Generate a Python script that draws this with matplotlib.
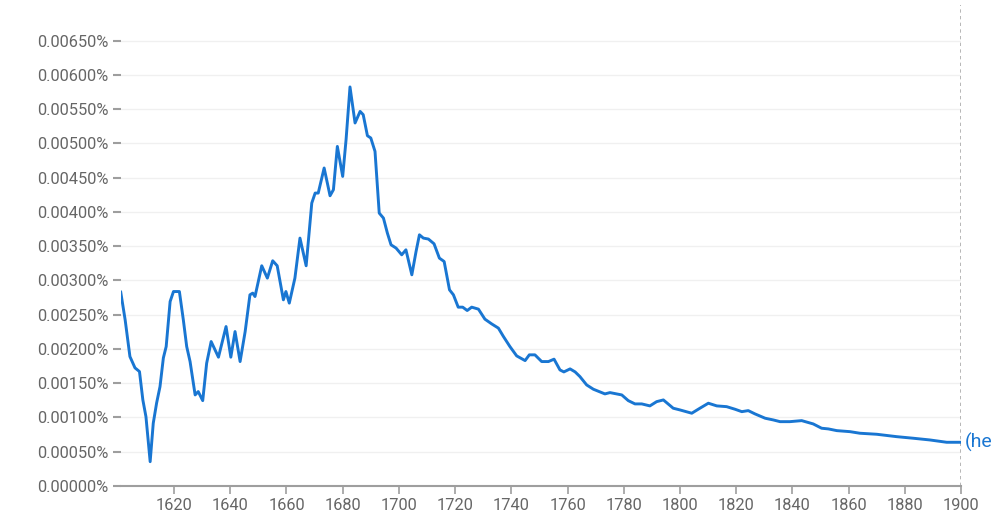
import numpy as np
import matplotlib
matplotlib.use("Agg")
import matplotlib.pyplot as plt
from matplotlib.ticker import FuncFormatter

plt.rcParams['font.family'] = ['Roboto', 'DejaVu Sans']

# values (percent units)
years = [1601.0, 1602.6, 1604.3, 1606.1, 1607.7, 1608.9, 1610.0, 1611.5, 1612.6, 1613.8,
         1615.0, 1616.2, 1617.2, 1618.6, 1619.8, 1621.9, 1623.3, 1624.5, 1625.7, 1627.5,
         1628.6, 1630.2, 1631.6, 1633.2, 1635.8, 1638.5, 1640.2, 1641.7, 1643.5, 1645.3,
         1647.0, 1648.0, 1648.8, 1651.2, 1653.2, 1655.1, 1656.7, 1658.9, 1659.8, 1661.0,
         1663.0, 1664.8, 1667.0, 1669.0, 1670.2, 1671.3, 1673.4, 1675.5, 1676.7, 1678.1,
         1680.0, 1681.2, 1682.6, 1684.4, 1686.2, 1687.3, 1688.8, 1690.0, 1691.5, 1693.0,
         1694.5, 1695.9, 1697.2, 1699.0, 1701.0, 1702.5, 1704.6, 1706.1, 1707.3, 1708.7,
         1710.5, 1712.5, 1714.4, 1716.1, 1718.0, 1719.4, 1721.1, 1722.7, 1724.3, 1725.9,
         1728.3, 1730.6, 1733.0, 1735.4, 1737.2, 1739.5, 1741.9, 1744.9, 1746.4, 1748.4,
         1750.8, 1753.2, 1755.2, 1757.3, 1758.7, 1760.9, 1762.7, 1764.4, 1766.8, 1769.2,
         1773.3, 1775.1, 1779.3, 1781.6, 1784.0, 1786.4, 1789.3, 1791.7, 1794.1, 1797.6,
         1800.0, 1804.2, 1807.1, 1810.1, 1813.1, 1816.6, 1819.6, 1822.0, 1824.3, 1826.7,
         1830.3, 1833.2, 1835.6, 1839.1, 1843.3, 1847.4, 1850.4, 1852.8, 1855.8, 1860.5,
         1864.0, 1870.0, 1877.1, 1883.0, 1888.9, 1894.9, 1900.0]
values = [0.002838, 0.002425, 0.001889, 0.001724, 0.001670, 0.001256, 0.001012, 0.000355, 0.000916, 0.001212,
          0.001450, 0.001870, 0.002035, 0.002692, 0.002838, 0.002838, 0.002425, 0.002035, 0.001816, 0.001329,
          0.001378, 0.001246, 0.001792, 0.002108, 0.001880, 0.002327, 0.001880, 0.002254, 0.001816, 0.002254,
          0.002790, 0.002815, 0.002765, 0.003214, 0.003034, 0.003287, 0.003214, 0.002717, 0.002838, 0.002669,
          0.003034, 0.003618, 0.003214, 0.004129, 0.004275, 0.004275, 0.004641, 0.004236, 0.004324, 0.004956,
          0.004518, 0.005054, 0.005824, 0.005298, 0.005467, 0.005419, 0.005112, 0.005079, 0.004883, 0.003983,
          0.003910, 0.003691, 0.003520, 0.003472, 0.003374, 0.003447, 0.003082, 0.003422, 0.003666, 0.003618,
          0.003604, 0.003535, 0.003326, 0.003276, 0.002863, 0.002790, 0.002610, 0.002610, 0.002561, 0.002610,
          0.002581, 0.002435, 0.002366, 0.002304, 0.002181, 0.002035, 0.001899, 0.001830, 0.001914, 0.001914,
          0.001816, 0.001816, 0.001851, 0.001694, 0.001665, 0.001709, 0.001665, 0.001597, 0.001475, 0.001412,
          0.001344, 0.001363, 0.001329, 0.001246, 0.001198, 0.001198, 0.001169, 0.001231, 0.001256, 0.001135,
          0.001110, 0.001062, 0.001135, 0.001208, 0.001169, 0.001158, 0.001120, 0.001085, 0.001100, 0.001052,
          0.000989, 0.000964, 0.000939, 0.000939, 0.000954, 0.000906, 0.000843, 0.000833, 0.000808, 0.000793,
          0.000770, 0.000755, 0.000720, 0.000697, 0.000672, 0.000638, 0.000638]
series_label = "(he"
ytick_vals = np.arange(0, 0.0066, 0.0005)
xtick_vals = np.arange(1620, 1901, 20)

blue = '#1976d2'
grey_text = '#666666'
axis_grey = '#9e9e9e'

fig = plt.figure(figsize=(9.93, 5.2), dpi=100)
ax = fig.add_axes([0.1215, 0.0654, 0.8463, 0.925])

ax.plot(years, values, color=blue, lw=2.1, solid_joinstyle='round', solid_capstyle='round', zorder=3)

ax.set_xlim(1601, 1900)
ax.set_ylim(0, 0.00702)

ax.set_yticks(ytick_vals)
ax.yaxis.set_major_formatter(FuncFormatter(lambda v, p: f"{v:.5f}%"))
ax.set_xticks(xtick_vals)

for sp in ['top', 'right', 'left']:
    ax.spines[sp].set_visible(False)
ax.spines['bottom'].set_color(axis_grey)
ax.spines['bottom'].set_linewidth(1.5)

ax.tick_params(axis='y', length=6, width=1.5, color=axis_grey, labelcolor=grey_text,
               labelsize=11.8, pad=3)
ax.tick_params(axis='x', length=6, width=1.2, color=axis_grey, labelcolor=grey_text,
               labelsize=11.8, pad=3)

for v in ytick_vals[1:]:
    ax.axhline(v, color='#f0f0f0', lw=1, zorder=1)

ax.axvline(1900, color='#aaaaaa', lw=1.2, ls=(0, (2, 2)), zorder=2)

ax.annotate(series_label, xy=(years[-1], values[-1]), xytext=(3, 0), textcoords='offset points',
            color=blue, fontsize=14, va='center', ha='left', annotation_clip=False)

fig.savefig('out.png', dpi=100)
